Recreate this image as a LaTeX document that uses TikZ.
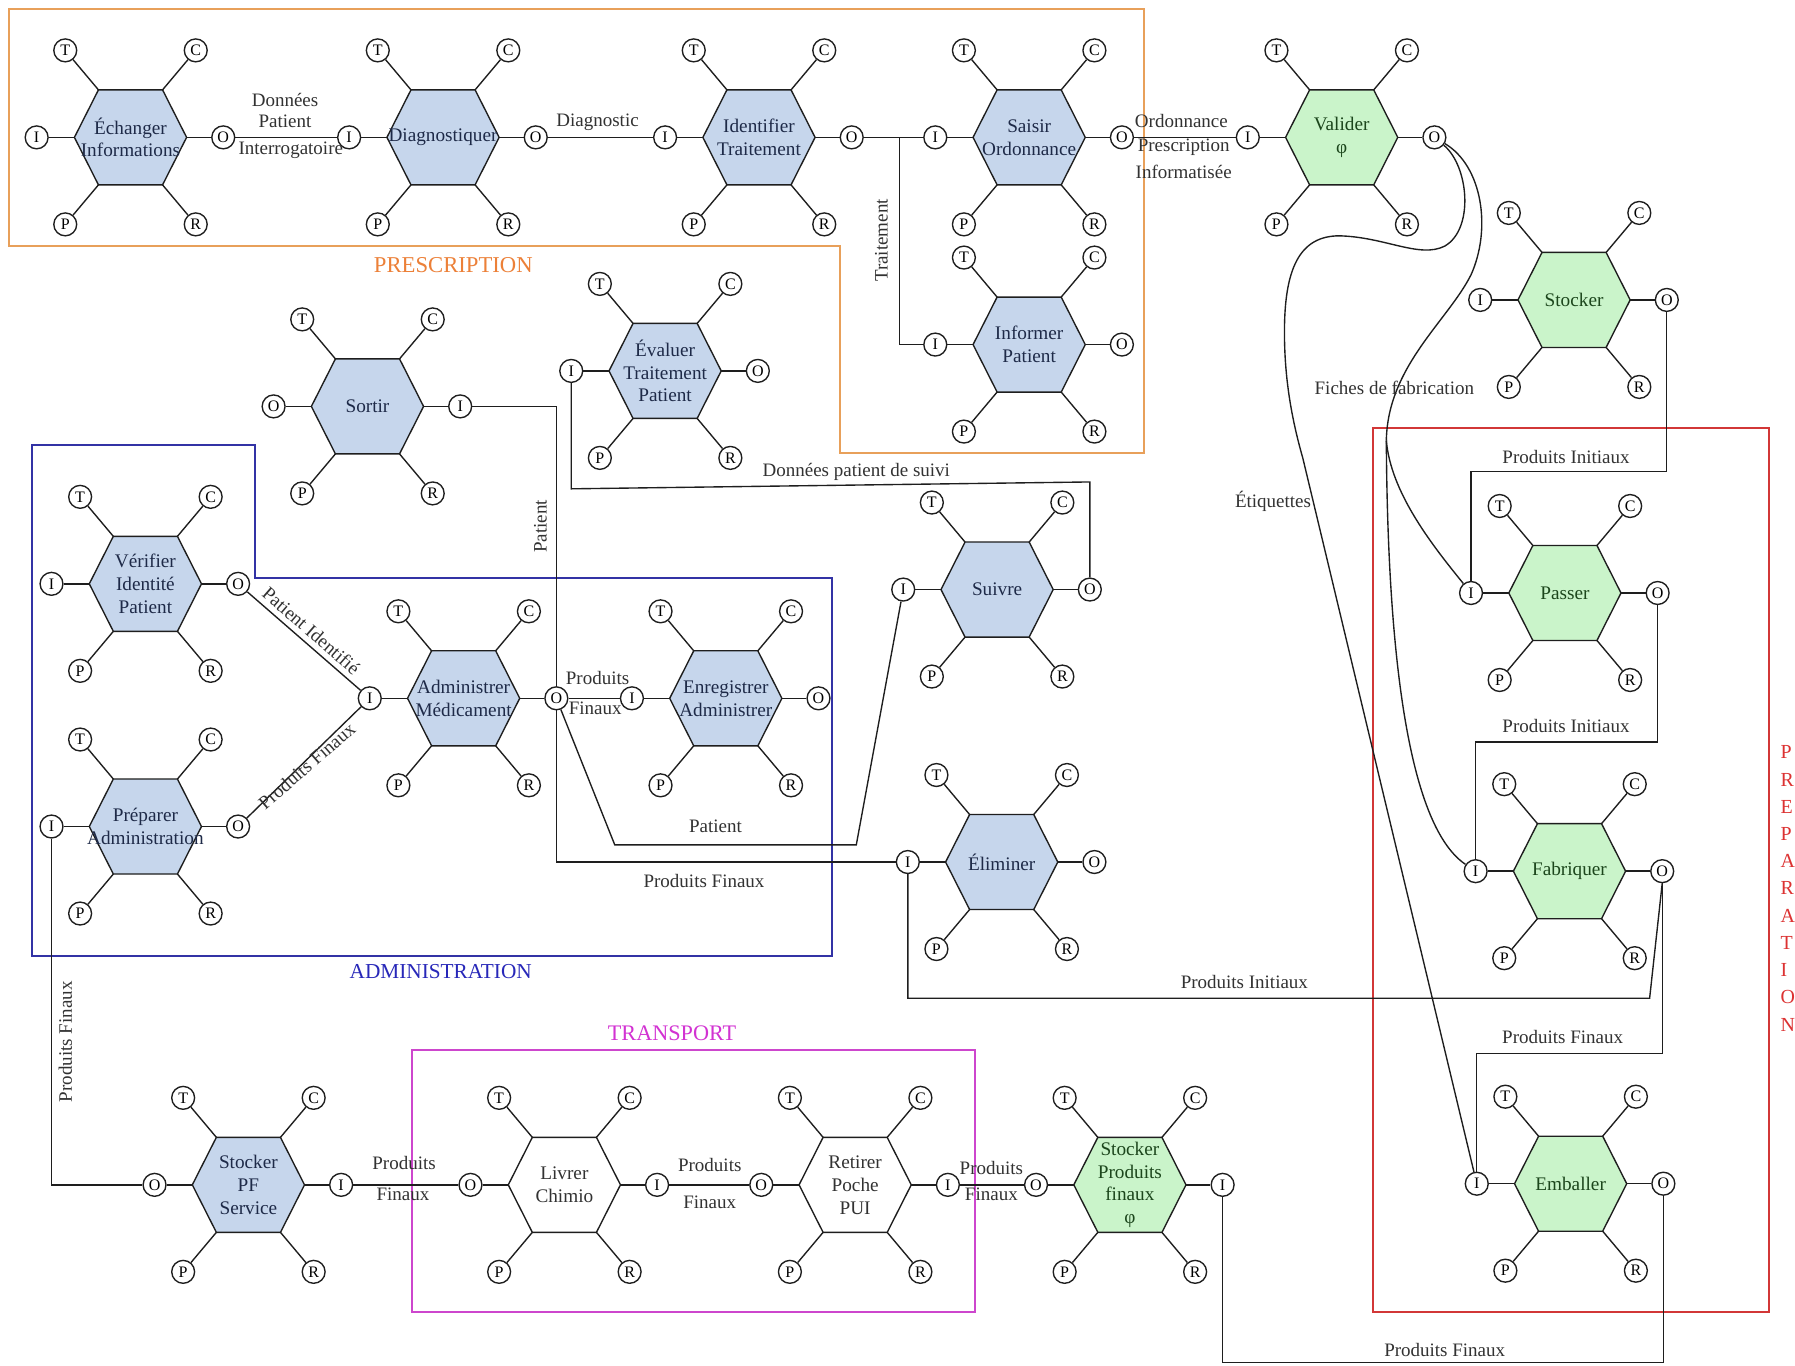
\documentclass[tikz,border=0pt]{standalone}
\usepackage{fontspec}
\setmainfont{Liberation Serif}
\usetikzlibrary{calc}
\definecolor{hblue}{RGB}{198,214,236}
\definecolor{hgreen}{RGB}{202,244,202}
\definecolor{tblue}{RGB}{30,42,72}
\definecolor{tgreen}{RGB}{28,70,28}
\definecolor{tgray}{RGB}{50,50,50}
\definecolor{cline}{RGB}{30,30,30}
\definecolor{corange}{RGB}{232,160,90}
\definecolor{torange}{RGB}{236,128,56}
\definecolor{cadmin}{RGB}{50,50,165}
\definecolor{tadmin}{RGB}{40,40,185}
\definecolor{cmag}{RGB}{205,70,205}
\definecolor{tmag}{RGB}{210,50,210}
\definecolor{cred}{RGB}{210,55,55}
\definecolor{tred}{RGB}{220,50,50}
\tikzset{
 hexline/.style={draw=cline,line width=0.6pt,line join=miter},
 spoke/.style={draw=cline,line width=0.6pt},
 port/.style={circle,draw=cline,fill=white,line width=0.6pt,inner sep=0pt,minimum size=10pt,font=\fontsize{7}{8}\selectfont},
 hextext/.style={align=center,inner sep=0pt,font=\fontsize{8.4}{10}\selectfont},
 conn/.style={draw=cline,line width=0.6pt},
 lbl/.style={inner sep=0pt,text=tgray,font=\fontsize{8.3}{10}\selectfont},
 zone/.style={line width=0.8pt},
 ztext/.style={inner sep=0pt}
}
% #1 name, #2 x, #3 y, #4 fill, #5 text colour, #6 text, #7 left letter, #8 right letter
\newcommand{\proc}[8]{%
  \begin{scope}[shift={(#2,#3)}]
    \draw[hexline,fill=#4] (-49,0) -- (-28,-41.5) -- (28,-41.5) -- (49,0) -- (28,41.5) -- (-28,41.5) -- cycle;
    \node[hextext,text=#5] (#1) at (0,0) {#6};
    \node[port] (#1-T) at (-57,-76) {T};
    \node[port] (#1-C) at (57,-76) {C};
    \node[port] (#1-P) at (-57,76) {P};
    \node[port] (#1-R) at (57,76) {R};
    \node[port] (#1-#7) at (-82,0) {#7};
    \node[port] (#1-#8) at (81,0) {#8};
    \draw[spoke] (-28,-41.5) -- (#1-T);
    \draw[spoke] (28,-41.5) -- (#1-C);
    \draw[spoke] (-28,41.5) -- (#1-P);
    \draw[spoke] (28,41.5) -- (#1-R);
    \draw[spoke] (-49,0) -- (#1-#7);
    \draw[spoke] (49,0) -- (#1-#8);
  \end{scope}}
\begin{document}
\begin{tikzpicture}[x=0.5pt,y=-0.5pt]
\useasboundingbox[fill=white] (0,0) rectangle (1568,1193);
% zones
\draw[zone,draw=corange] (8,8) -- (999,8) -- (999,396) -- (734,396) -- (734,215) -- (8,215) -- cycle;
\node[ztext,text=torange,font=\fontsize{9.9}{12}\selectfont] (zpres) at (396,232) {PRESCRIPTION};
\draw[zone,draw=cadmin] (28,389) -- (223,389) -- (223,505) -- (727,505) -- (727,835) -- (28,835) -- cycle;
\node[ztext,text=tadmin,font=\fontsize{9.3}{12}\selectfont] (zadm) at (385,849) {ADMINISTRATION};
\draw[zone,draw=cmag] (360,917) rectangle (852,1146);
\node[ztext,text=tmag,font=\fontsize{9.7}{12}\selectfont] (ztr) at (587,903) {TRANSPORT};
\draw[zone,draw=cred] (1199,374) rectangle (1545,1146);
\node[ztext,text=tred,anchor=north west,align=left,font=\fontsize{8.7}{11.9}\selectfont] (zprep) at (1555,651) {P\\R\\E\\P\\A\\R\\A\\T\\I\\O\\N};
% processes
\proc{ech}{114}{120}{hblue}{tblue}{Échanger\\Informations}{I}{O}
\proc{diag}{387}{120}{hblue}{tblue}{Diagnostiquer}{I}{O}
\proc{ident}{663}{120}{hblue}{tblue}{Identifier\\Traitement}{I}{O}
\proc{saisir}{899}{120}{hblue}{tblue}{Saisir\\Ordonnance}{I}{O}
\proc{valider}{1172}{120}{hgreen}{tgreen}{Valider\\φ}{I}{O}
\proc{stock}{1375}{262}{hgreen}{tgreen}{Stocker}{I}{O}
\proc{inform}{899}{301}{hblue}{tblue}{Informer\\Patient}{I}{O}
\proc{eval}{581}{324}{hblue}{tblue}{Évaluer\\Traitement\\Patient}{I}{O}
\proc{sortir}{321}{355}{hblue}{tblue}{Sortir}{O}{I}
\proc{verif}{127}{510}{hblue}{tblue}{Vérifier\\Identité\\Patient}{I}{O}
\proc{admin}{405}{610}{hblue}{tblue}{Administrer\\Médicament}{I}{O}
\proc{enreg}{634}{610}{hblue}{tblue}{Enregistrer\\Administrer}{I}{O}
\proc{prep}{127}{722}{hblue}{tblue}{Préparer\\Administration}{I}{O}
\proc{suivre}{871}{515}{hblue}{tblue}{Suivre}{I}{O}
\proc{elim}{875}{753}{hblue}{tblue}{Éliminer}{I}{O}
\proc{passer}{1367}{518}{hgreen}{tgreen}{Passer}{I}{O}
\proc{fabr}{1371}{761}{hgreen}{tgreen}{Fabriquer}{I}{O}
\proc{emb}{1372}{1034}{hgreen}{tgreen}{Emballer}{I}{O}
\proc{spf}{217}{1035}{hblue}{tblue}{Stocker\\PF\\Service}{O}{I}
\proc{livrer}{493}{1035}{white}{tgray}{Livrer\\Chimio}{O}{I}
\proc{retirer}{747}{1035}{white}{tgray}{Retirer\\Poche\\PUI}{O}{I}
\proc{spfin}{987}{1035}{hgreen}{tgreen}{Stocker\\Produits\\finaux\\φ}{O}{I}
% connectors
\draw[conn] (ech-O) -- (diag-I);
\node[lbl] (l1a) at (249,87) {Données};
\node[lbl] (l1b) at (249,106) {Patient};
\node[lbl] (l1c) at (254,131) {Interrogatoire};
\draw[conn] (diag-O) -- (ident-I);
\node[lbl] (l2) at (522,107) {Diagnostic};
\draw[conn] (ident-O) -- (saisir-I);
\coordinate (jt) at (786,120);
\draw[conn] (jt) |- (inform-I);
\node[lbl,rotate=90] (l3) at (770,210) {Traitement};
\draw[conn] (saisir-O) -- (valider-I);
\node[lbl] (l4a) at (1032,106) {Ordonnance};
\node[lbl] (l4b) at (1034,129) {Prescription};
\node[lbl] (l4c) at (1034,150) {Informatisée};
% curves from Valider
\draw[conn] (valider-O) .. controls (1283,145) and (1288,200) .. (1262,215)
  .. controls (1240,226) and (1210,207) .. (1170,206)
  .. controls (1135,206) and (1122,235) .. (1122,290)
  .. controls (1122,330) and (1128,365) .. (1138,400) -- (emb-I);
\node[lbl] (l5) at (1112,438) {Étiquettes};
\coordinate (br) at (1211,385);
\draw[conn] (valider-O) .. controls (1295,145) and (1303,200) .. (1285,240)
  .. controls (1265,280) and (1212,320) .. (br);
\draw[conn] (br) .. controls (1215,430) and (1250,475) .. (passer-I);
\draw[conn] (br) .. controls (1212,560) and (1228,720) .. (fabr-I);
\node[lbl] (l6) at (1218,339) {Fiches de fabrication};
% preparation chain
\draw[conn] (stock-O.south) -- (stock-O.south |- 0,412) -- (passer-I.north |- 0,412) -- (passer-I.north);
\node[lbl] (l7) at (1368,399) {Produits Initiaux};
\draw[conn] (passer-O.south) -- (passer-O.south |- 0,648) -- (fabr-I.north |- 0,648) -- (fabr-I.north);
\node[lbl] (l8) at (1368,634) {Produits Initiaux};
\draw[conn] (fabr-O.south) -- (fabr-O.south |- 0,920) -- (emb-I.north |- 0,920) -- (emb-I.north);
\node[lbl] (l9) at (1365,906) {Produits Finaux};
\coordinate (pi1) at (1441,872);
\draw[conn] (elim-I.south) |- (pi1) -- (fabr-O.south);
\node[lbl] (l10) at (1087,858) {Produits Initiaux};
\draw[conn] (emb-O.south) -- (emb-O.south |- 0,1190) -- (spfin-I.south |- 0,1190) -- (spfin-I.south);
\node[lbl] (l11) at (1262,1179) {Produits Finaux};
% bottom row
\draw[conn] (spfin-O) -- (retirer-I);
\node[lbl] (l12a) at (866,1020) {Produits};
\node[lbl] (l12b) at (866,1043) {Finaux};
\draw[conn] (retirer-O) -- (livrer-I);
\node[lbl] (l13a) at (620,1018) {Produits};
\node[lbl] (l13b) at (620,1050) {Finaux};
\draw[conn] (livrer-O) -- (spf-I);
\node[lbl] (l14a) at (353,1016) {Produits};
\node[lbl] (l14b) at (352,1043) {Finaux};
\draw[conn] (spf-O) -| (prep-I.south);
\node[lbl,rotate=90] (l15) at (57,910) {Produits Finaux};
% administration
\draw[conn] (verif-O) -- (admin-I);
\node[lbl,rotate=-41] (l16) at (272,551) {Patient Identifié};
\draw[conn] (prep-O) -- (admin-I);
\node[lbl,rotate=41] (l17) at (268,669) {Produits Finaux};
\draw[conn] (sortir-I) -| (admin-O.north);
\node[lbl,rotate=90] (l18) at (472,460) {Patient};
\draw[conn] (admin-O) -- (enreg-I);
\node[lbl] (l19a) at (522,592) {Produits};
\node[lbl] (l19b) at (520,619) {Finaux};
\coordinate (pa1) at (537,738);
\coordinate (pa2) at (748,738);
\draw[conn] (admin-O) -- (pa1) -- (pa2) -- (suivre-I);
\node[lbl] (l20) at (625,722) {Patient};
\draw[conn] (admin-O.south) |- (elim-I);
\node[lbl] (l21) at (615,770) {Produits Finaux};
\draw[conn] (eval-I.south) -- (eval-I.south |- 0,427) -- (suivre-O.north |- 0,421) -- (suivre-O.north);
\node[lbl] (l22) at (748,412) {Données patient de suivi};
\end{tikzpicture}
\end{document}
